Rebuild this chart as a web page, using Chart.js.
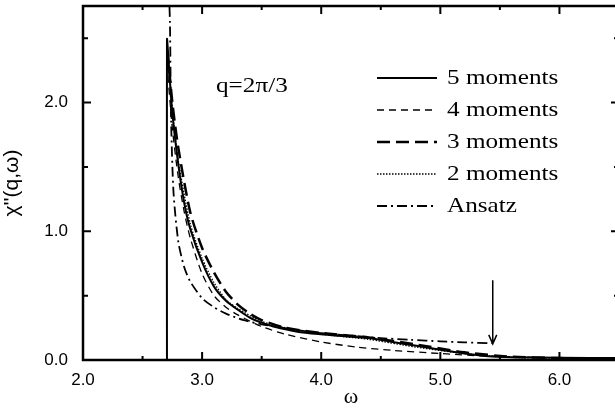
<!DOCTYPE html>
<html>
<head>
<meta charset="utf-8">
<script src="https://cdn.jsdelivr.net/npm/chart.js@4.4.0/dist/chart.umd.min.js"></script>
<style>
  html, body { margin: 0; padding: 0; background: #fff; overflow: hidden; }
  #wrap { width: 630px; height: 415px; }
</style>
</head>
<body>
<div id="wrap"><canvas id="chart"></canvas></div>
<script>
// --- data (omega, chi'') ---
const moments5 = [
  [2.705, 0], [2.705, 2.49], [2.72, 2.3], [2.75, 1.92], [2.8, 1.52], [2.85, 1.22], [2.9, 1.02],
  [3.0, 0.76], [3.1, 0.57], [3.2, 0.46], [3.3, 0.39], [3.4, 0.33], [3.5, 0.29], [3.6, 0.26],
  [3.8, 0.22], [4.0, 0.2], [4.2, 0.185], [4.4, 0.17], [4.6, 0.14], [4.8, 0.11], [5.0, 0.08],
  [5.2, 0.05], [5.4, 0.03], [5.6, 0.022], [6.0, 0.018], [6.5, 0.015]
];
const moments4 = [
  [2.705, 2.3], [2.75, 1.8], [2.8, 1.42], [2.85, 1.15], [2.9, 0.95], [3.0, 0.67], [3.1, 0.5],
  [3.2, 0.41], [3.3, 0.35], [3.5, 0.26], [3.7, 0.2], [4.0, 0.14], [4.3, 0.1], [4.6, 0.075],
  [5.0, 0.05], [5.4, 0.03], [5.8, 0.02], [6.5, 0.01]
];
const moments3 = [
  [2.71, 2.4], [2.75, 2.0], [2.8, 1.65], [2.9, 1.15], [3.0, 0.87], [3.1, 0.68], [3.2, 0.53],
  [3.3, 0.43], [3.4, 0.36], [3.5, 0.31], [3.7, 0.25], [4.0, 0.21], [4.4, 0.175], [4.8, 0.12],
  [5.2, 0.06], [5.6, 0.025], [6.0, 0.015], [6.5, 0.01]
];
const moments2 = [
  [2.705, 2.45], [2.75, 1.95], [2.8, 1.55], [2.9, 1.06], [3.0, 0.79], [3.1, 0.6], [3.2, 0.47],
  [3.3, 0.4], [3.5, 0.3], [3.7, 0.25], [4.0, 0.2], [4.4, 0.16], [4.8, 0.1], [5.2, 0.05],
  [5.6, 0.02], [6.5, 0.01]
];
const ansatz = [
  [2.72, 2.9], [2.73, 2.62], [2.74, 1.85], [2.76, 1.3], [2.8, 0.92], [2.85, 0.72], [2.9, 0.61],
  [3.0, 0.48], [3.1, 0.41], [3.2, 0.36], [3.35, 0.31], [3.5, 0.277], [3.75, 0.24], [4.0, 0.208],
  [4.25, 0.19], [4.5, 0.17], [4.75, 0.157], [5.0, 0.145], [5.2, 0.137], [5.44, 0.13]
];
const seriesLabels = ['5 moments', '4 moments', '3 moments', '2 moments', 'Ansatz'];
const xTickValues = [2, 3, 4, 5, 6];
const yTickValues = [0, 1, 2];
const upperEdge = 5.44; // arrow marks the upper boundary

const toPts = arr => arr.map(([x, y]) => ({ x, y }));
const styles = [
  { borderWidth: 2, borderDash: [] },
  { borderWidth: 1.3, borderDash: [7, 5] },
  { borderWidth: 2.5, borderDash: [13, 6] },
  { borderWidth: 1.3, borderDash: [1.5, 1.5] },
  { borderWidth: 1.8, borderDash: [10, 4, 2, 4] },
];
const allSeries = [moments5, moments4, moments3, moments2, ansatz];

const datasets = allSeries.map((s, i) => ({
  label: seriesLabels[i],
  data: toPts(s),
  showLine: true,
  pointRadius: 0,
  borderColor: '#000',
  borderWidth: styles[i].borderWidth,
  borderDash: styles[i].borderDash,
  tension: 0.25,
  fill: false,
}));

const frameAndNotes = {
  id: 'frameAndNotes',
  afterDatasetsDraw(chart) {
    const { ctx, chartArea: a, scales: { x, y } } = chart;
    ctx.save();
    ctx.strokeStyle = '#000';
    ctx.lineWidth = 2.5;
    ctx.setLineDash([]);
    ctx.strokeRect(a.left, a.top, a.right - a.left, a.bottom - a.top);

    // inward ticks on all four sides
    ctx.lineWidth = 2;
    for (let v = 2.0; v <= 6.5 + 1e-9; v += 0.5) {
      const px = x.getPixelForValue(v);
      const len = Math.abs(v % 1) < 1e-6 ? 8 : 4;
      ctx.beginPath();
      ctx.moveTo(px, a.bottom); ctx.lineTo(px, a.bottom - len);
      ctx.moveTo(px, a.top); ctx.lineTo(px, a.top + len);
      ctx.stroke();
    }
    for (let v = 0; v <= 2.5 + 1e-9; v += 0.5) {
      const py = y.getPixelForValue(v);
      const len = Math.abs(v % 1) < 1e-6 ? 8 : 5;
      ctx.beginPath();
      ctx.moveTo(a.left, py); ctx.lineTo(a.left + len, py);
      ctx.moveTo(a.right, py); ctx.lineTo(a.right - len, py);
      ctx.stroke();
    }

    // serif text, a bit wide like the scan
    const wideText = (txt, tx, ty, size) => {
      ctx.save();
      ctx.translate(tx, ty);
      ctx.scale(1.2, 1);
      ctx.font = size + 'px "Liberation Serif", "Times New Roman", serif';
      ctx.fillStyle = '#000';
      ctx.textBaseline = 'middle';
      ctx.textAlign = 'left';
      ctx.fillText(txt, 0, 0);
      ctx.restore();
    };
    wideText('q=2\u03c0/3', 216, 86, 21);

    // legend
    chart.data.datasets.forEach((ds, i) => {
      const ly = 78 + i * 32;
      ctx.beginPath();
      ctx.lineWidth = ds.borderWidth;
      ctx.setLineDash(ds.borderDash);
      ctx.moveTo(377, ly); ctx.lineTo(437, ly);
      ctx.stroke();
      wideText(ds.label, 447, ly, 21);
    });

    // arrow at the upper edge
    const ax = x.getPixelForValue(upperEdge);
    const y1 = y.getPixelForValue(0.62), y2 = y.getPixelForValue(0.125);
    ctx.setLineDash([]);
    ctx.lineWidth = 1.5;
    ctx.beginPath();
    ctx.moveTo(ax, y1); ctx.lineTo(ax, y2);
    ctx.moveTo(ax - 4, y2 - 9); ctx.lineTo(ax, y2); ctx.lineTo(ax + 4, y2 - 9);
    ctx.stroke();
    ctx.restore();
  }
};

const tickFont = { family: '"Liberation Sans", Arial, sans-serif', size: 17 };

new Chart(document.getElementById('chart'), {
  type: 'scatter',
  data: { datasets },
  options: {
    responsive: true,
    maintainAspectRatio: false,
    animation: false,
    layout: { padding: { left: 0, top: 6, right: 11, bottom: 0 } },
    plugins: { legend: { display: false }, tooltip: { enabled: false } },
    scales: {
      x: {
        type: 'linear', min: 2.0, max: 6.5,
        grid: { display: false, drawTicks: false },
        border: { display: false },
        afterBuildTicks: s => { s.ticks = xTickValues.map(value => ({ value })); },
        ticks: {
          autoSkip: false, maxRotation: 0, padding: 10,
          color: '#000', font: tickFont,
          callback: v => v.toFixed(1)
        },
        title: {
          display: true, text: '\u03c9', color: '#000',
          font: { family: '"Liberation Serif", "Times New Roman", serif', size: 22 },
          padding: { top: 0, bottom: 5 }
        },
        afterFit: s => { s.height = 55; s.paddingLeft = 0; s.paddingRight = 0; }
      },
      y: {
        type: 'linear', min: 0, max: 2.75,
        grid: { display: false, drawTicks: false },
        border: { display: false },
        afterBuildTicks: s => { s.ticks = yTickValues.map(value => ({ value })); },
        ticks: {
          autoSkip: false, padding: 15,
          color: '#000', font: tickFont,
          callback: v => v.toFixed(1)
        },
        title: {
          display: true, text: '\u03c7\'\'(q,\u03c9)', color: '#000',
          font: { family: '"Liberation Sans", Arial, sans-serif', size: 21 },
          padding: { top: 0, bottom: 0 }
        },
        afterFit: s => { s.width = 83; s.paddingTop = 0; s.paddingBottom = 0; }
      }
    }
  },
  plugins: [frameAndNotes]
});
</script>
</body>
</html>
